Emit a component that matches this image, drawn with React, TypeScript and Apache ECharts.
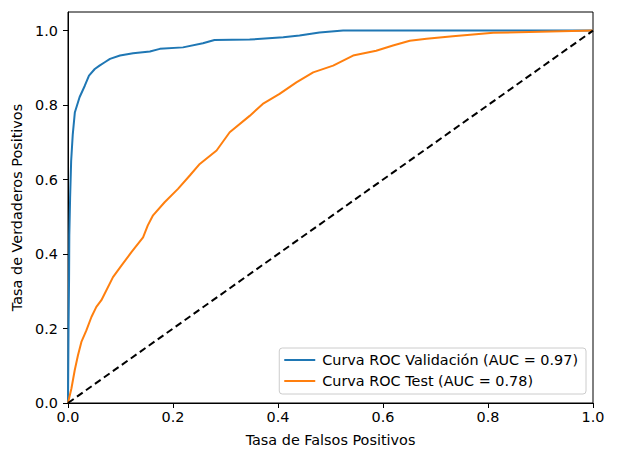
import React, { useEffect, useRef } from "react";
import * as echarts from "echarts";

const FONT = "DejaVu Sans";
const FS = 14.4;

const tickValues = [0, 0.2, 0.4, 0.6, 0.8, 1.0];

const valName = "Curva ROC Validación (AUC = 0.97)";
const testName = "Curva ROC Test (AUC = 0.78)";

const valFpr = [0, 0.001, 0.002, 0.0025, 0.004, 0.006, 0.009, 0.013, 0.022, 0.032, 0.04, 0.051, 0.06, 0.07, 0.08, 0.099, 0.124, 0.156, 0.175, 0.219, 0.257, 0.279, 0.346, 0.41, 0.441, 0.479, 0.524, 1.0];
const valTpr = [0, 0.2, 0.33, 0.45, 0.55, 0.65, 0.72, 0.78, 0.821, 0.852, 0.879, 0.897, 0.906, 0.915, 0.924, 0.933, 0.939, 0.944, 0.951, 0.955, 0.966, 0.975, 0.976, 0.982, 0.987, 0.995, 1.0, 1.0];

const testFpr = [0, 0.0065, 0.0128, 0.019, 0.0255, 0.035, 0.0446, 0.054, 0.0636, 0.0857, 0.1017, 0.1208, 0.143, 0.152, 0.162, 0.184, 0.2095, 0.232, 0.251, 0.283, 0.308, 0.346, 0.371, 0.403, 0.435, 0.467, 0.505, 0.543, 0.587, 0.619, 0.651, 0.683, 0.733, 0.81, 1.0];
const testTpr = [0, 0.039, 0.088, 0.128, 0.164, 0.195, 0.231, 0.258, 0.276, 0.338, 0.369, 0.405, 0.445, 0.477, 0.504, 0.539, 0.575, 0.611, 0.642, 0.678, 0.727, 0.771, 0.803, 0.83, 0.861, 0.888, 0.906, 0.933, 0.946, 0.96, 0.973, 0.978, 0.985, 0.994, 1.0];

const diagX = [0, 1];
const diagY = [0, 1];

const zip = (a: number[], b: number[]) => a.map((v, i) => [v, b[i]]);

export default function App() {
  const ref = useRef<HTMLDivElement>(null);
  useEffect(() => {
    document.body.style.margin = "0";
    if (!ref.current) return;
    const chart = echarts.init(ref.current, undefined, { renderer: "svg" });
    const labelStyle = { color: "#000", fontSize: FS, fontFamily: FONT };
    chart.setOption({
      animation: false,
      backgroundColor: "#fff",
      textStyle: { fontFamily: FONT },
      grid: { left: 68, right: 25, top: 12, bottom: 51, show: true, borderColor: "#000", borderWidth: 1, backgroundColor: "transparent" },
      legend: {
        data: [valName, testName],
        orient: "vertical",
        right: 32,
        bottom: 60,
        icon: "rect",
        itemWidth: 31,
        itemHeight: 2,
        itemGap: 5,
        padding: [4, 8, 5, 5],
        backgroundColor: "rgba(255,255,255,0.8)",
        borderColor: "#cccccc",
        borderWidth: 1,
        borderRadius: 3,
        textStyle: { color: "#000", fontSize: FS, fontFamily: FONT, lineHeight: 16, padding: [0, 0, 0, 2] },
      },
      xAxis: {
        type: "value",
        min: 0,
        max: 1,
        interval: 0.2,
        name: "Tasa de Falsos Positivos",
        nameLocation: "middle",
        nameGap: 30,
        nameTextStyle: { color: "#000", fontSize: FS, fontFamily: FONT },
        axisLine: { show: true, lineStyle: { color: "#000", width: 1 } },
        axisTick: { show: true, length: 5, lineStyle: { color: "#000" } },
        axisLabel: { ...labelStyle, margin: 7, formatter: (v: number) => v.toFixed(1) },
        splitLine: { show: false },
      },
      yAxis: {
        type: "value",
        min: 0,
        max: 1.05,
        interval: 0.2,
        name: "Tasa de Verdaderos Positivos",
        nameLocation: "middle",
        nameGap: 40,
        nameTextStyle: { color: "#000", fontSize: FS, fontFamily: FONT },
        axisLine: { show: true, lineStyle: { color: "#000", width: 1 } },
        axisTick: { show: true, length: 5, lineStyle: { color: "#000" }, customValues: tickValues },
        axisLabel: {
          ...labelStyle,
          margin: 10,
          customValues: tickValues,
          formatter: (v: number) => (Math.abs(v / 0.2 - Math.round(v / 0.2)) < 1e-6 ? v.toFixed(1) : ""),
        },
        splitLine: { show: false },
      },
      series: [
        {
          name: valName,
          type: "line",
          data: zip(valFpr, valTpr),
          showSymbol: false,
          symbol: "none",
          color: "#1f77b4",
          lineStyle: { color: "#1f77b4", width: 2 },
        },
        {
          name: testName,
          type: "line",
          data: zip(testFpr, testTpr),
          showSymbol: false,
          symbol: "none",
          color: "#ff7f0e",
          lineStyle: { color: "#ff7f0e", width: 2 },
        },
        {
          name: "diag",
          type: "line",
          data: zip(diagX, diagY),
          showSymbol: false,
          symbol: "none",
          color: "#000",
          lineStyle: { color: "#000", width: 2, type: [7, 4] },
        },
      ],
    });
    return () => chart.dispose();
  }, []);
  return <div ref={ref} style={{ width: 618, height: 454, position: "absolute", left: 0, top: 0 }} />;
}
